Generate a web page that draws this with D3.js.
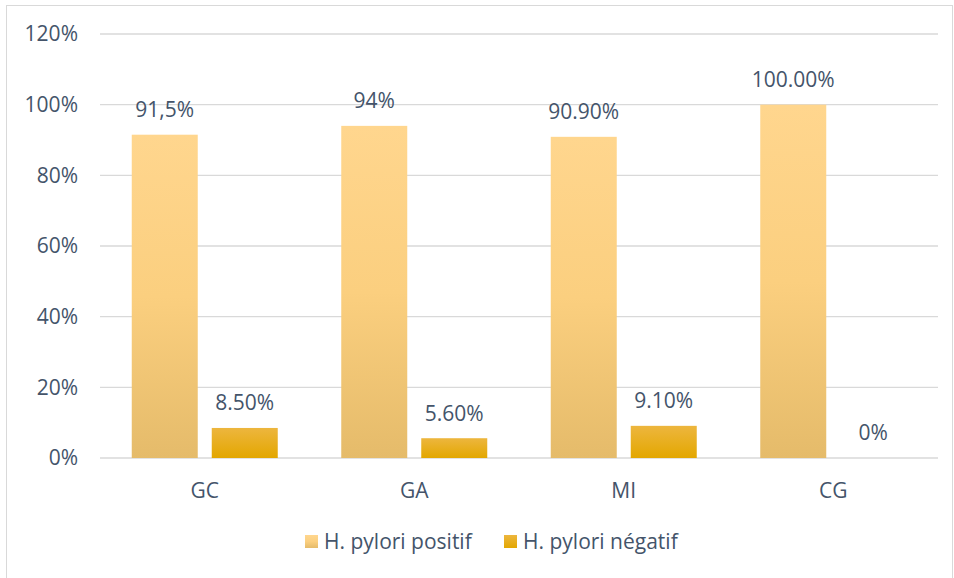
<!DOCTYPE html>
<meta charset="utf-8">
<style>
body { margin: 0; background: #fff; }
text { font-family: "Open Sans", "Noto Sans", sans-serif; fill: #44546A; }
.grid line { stroke: #D9D9D9; stroke-width: 1.3px; }
</style>
<svg width="954" height="578"></svg>
<script src="https://d3js.org/d3.v7.min.js"></script>
<script>

var categories = ["GC", "GA", "MI", "CG"];
var positif = [91.5, 94, 90.9, 100];
var negatif = [8.5, 5.6, 9.1, 0];
var positifLabels = ["91,5%", "94%", "90.90%", "100.00%"];
var negatifLabels = ["8.50%", "5.60%", "9.10%", "0%"];
var series = ["H. pylori positif", "H. pylori négatif"];
var yTicks = [0, 20, 40, 60, 80, 100, 120];

var svg = d3.select("svg");

svg.append("rect")
    .attr("x", 6.5).attr("y", 5.5)
    .attr("width", 946).attr("height", 580)
    .attr("fill", "none").attr("stroke", "#D9D9D9");

var defs = svg.append("defs");
var g1 = defs.append("linearGradient").attr("id", "gPos")
    .attr("x1", 0).attr("y1", 0).attr("x2", 0).attr("y2", 1);
g1.append("stop").attr("offset", "0%").attr("stop-color", "#FFD68E");
g1.append("stop").attr("offset", "50%").attr("stop-color", "#FBCF7F");
g1.append("stop").attr("offset", "100%").attr("stop-color", "#E5BB6A");
var g2 = defs.append("linearGradient").attr("id", "gNeg")
    .attr("x1", 0).attr("y1", 0).attr("x2", 0).attr("y2", 1);
g2.append("stop").attr("offset", "0%").attr("stop-color", "#EDB63E");
g2.append("stop").attr("offset", "100%").attr("stop-color", "#E3A700");

var x = d3.scaleBand().domain(categories).range([100, 938]).paddingInner(0).paddingOuter(0);
var y = d3.scaleLinear().domain([0, 120]).range([458, 34]);

var barW = 66, gap = 14, fs = "21px";

svg.append("g").attr("class", "grid")
  .selectAll("line").data(yTicks).enter().append("line")
    .attr("x1", 100).attr("x2", 938)
    .attr("y1", function(d) { return y(d); })
    .attr("y2", function(d) { return y(d); });

svg.append("g").selectAll("text").data(yTicks).enter().append("text")
    .attr("x", 78).attr("y", function(d) { return y(d); })
    .attr("dy", "0.35em").attr("text-anchor", "end")
    .style("font-size", fs)
    .text(function(d) { return d + "%"; });

function bx(i, s) {
  var c = x(categories[i]) + x.bandwidth() / 2;
  return s === 0 ? c - gap / 2 - barW : c + gap / 2;
}

var data = [positif, negatif];
var labels = [positifLabels, negatifLabels];
var fills = ["url(#gPos)", "url(#gNeg)"];

data.forEach(function(vals, s) {
  svg.append("g").selectAll("rect").data(vals).enter().append("rect")
      .attr("x", function(d, i) { return bx(i, s); })
      .attr("y", function(d) { return y(d); })
      .attr("width", barW)
      .attr("height", function(d) { return y(0) - y(d); })
      .attr("fill", fills[s]);

  svg.append("g").selectAll("text").data(vals).enter().append("text")
      .attr("x", function(d, i) { return bx(i, s) + barW / 2; })
      .attr("y", function(d) { return y(d) - 25; })
      .attr("dy", "0.35em").attr("text-anchor", "middle")
      .style("font-size", fs)
      .text(function(d, i) { return labels[s][i]; });
});

svg.append("g").selectAll("text").data(categories).enter().append("text")
    .attr("x", function(d) { return x(d) + x.bandwidth() / 2; })
    .attr("y", 491).attr("dy", "0.35em").attr("text-anchor", "middle")
    .style("font-size", fs)
    .text(function(d) { return d; });

var legend = svg.append("g");
var lx = [305, 504];
series.forEach(function(s, i) {
  legend.append("rect")
      .attr("x", lx[i]).attr("y", 535)
      .attr("width", 13).attr("height", 13)
      .attr("fill", fills[i]);
  legend.append("text")
      .attr("x", lx[i] + 19).attr("y", 542)
      .attr("dy", "0.35em")
      .style("font-size", fs)
      .text(s);
});

</script>
